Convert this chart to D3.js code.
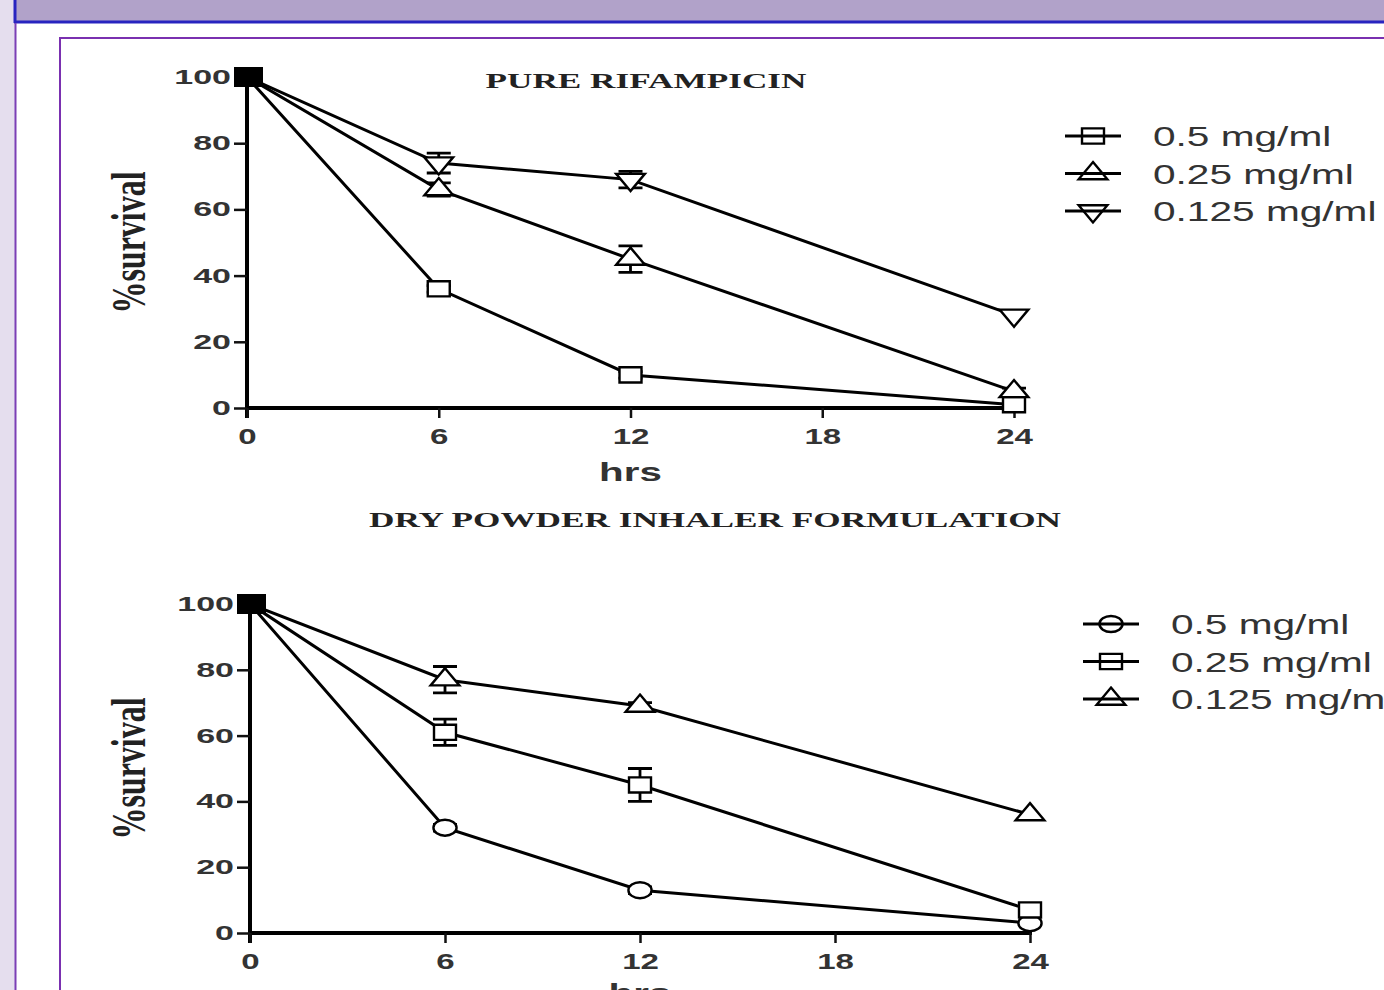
<!DOCTYPE html>
<html>
<head>
<meta charset="utf-8">
<script src="https://cdn.jsdelivr.net/npm/d3@7"></script>
<style>
  body { margin: 0; background: #fff; }
  svg { display: block; }
</style>
</head>
<body>
<script>
// time points (hrs)
const hours = [0, 6, 12, 24];
const xTicks = [0, 6, 12, 18, 24];
const yTicks = [0, 20, 40, 60, 80, 100];
const doseLabels = ['0.5 mg/ml', '0.25 mg/ml', '0.125 mg/ml'];

// pure rifampicin, % survival
const pure05 = [100, 36, 10, 1];
const pure025 = [100, 66, 45, 5];
const pure0125 = [100, 74, 69, 28];
const pure05Err = [0, 1, 1, 0];
const pure025Err = [0, 2, 4, 1];
const pure0125Err = [0, 3, 2.5, 0];

// dry powder inhaler formulation, % survival
const dpi05 = [100, 32, 13, 3];
const dpi025 = [100, 61, 45, 7];
const dpi0125 = [100, 77, 69, 36];
const dpi05Err = [0, 1, 1, 0];
const dpi025Err = [0, 4, 5, 1];
const dpi0125Err = [0, 4, 1, 0];

const W = 1384, H = 990;
const SANS = 'Liberation Sans, Arial, sans-serif';
const SERIF = 'Liberation Serif, Times New Roman, serif';
const svg = d3.select('body').append('svg').attr('width', W).attr('height', H);

// the source image is stretched sideways, so text is widened to match
function widen(sel, k) {
  sel.each(function() {
    const w = this.getComputedTextLength();
    d3.select(this).attr('textLength', w * k).attr('lengthAdjust', 'spacingAndGlyphs');
  });
}

// page chrome
svg.append('rect').attr('x', 0).attr('y', 0).attr('width', 15).attr('height', H).attr('fill', '#e5deee');
svg.append('rect').attr('x', 15).attr('y', 0).attr('width', W - 15).attr('height', 22).attr('fill', '#b1a2c9');
svg.append('line').attr('x1', 15).attr('x2', 15).attr('y1', 0).attr('y2', 23)
  .attr('stroke', '#2824c0').attr('stroke-width', 3);
svg.append('line').attr('x1', 14).attr('x2', W).attr('y1', 22).attr('y2', 22)
  .attr('stroke', '#2824c0').attr('stroke-width', 3);
svg.append('line').attr('x1', 15.5).attr('x2', 15.5).attr('y1', 23).attr('y2', H)
  .attr('stroke', '#7b3fb5').attr('stroke-width', 2);
svg.append('rect').attr('x', 60).attr('y', 38).attr('width', W).attr('height', H)
  .attr('fill', 'none').attr('stroke', '#7a30b0').attr('stroke-width', 2);

const sym = {
  square: d3.symbol().type(d3.symbolSquare).size(230),
  up: d3.symbol().type(d3.symbolTriangle).size(170),
  down: d3.symbol().type(d3.symbolTriangle).size(170),
  circle: d3.symbol().type(d3.symbolCircle).size(200)
};

function marker(g, kind, x, y, fill) {
  g.append('path')
    .attr('d', sym[kind]())
    .attr('transform', `translate(${x},${y}) scale(1.45,1)${kind === 'down' ? ' rotate(180)' : ''}`)
    .attr('fill', fill).attr('stroke', '#000').attr('stroke-width', 2.4)
    .attr('vector-effect', 'non-scaling-stroke');
}

function drawPanel(opts) {
  const {x0, x1, y0, y1, title, titleX, titleY, series, legendX, legendY, hrsY} = opts;
  const x = d3.scaleLinear().domain([0, 24]).range([x0, x1]);
  const y = d3.scaleLinear().domain([0, 100]).range([y0, y1]);
  const g = svg.append('g');

  // axes
  const yAxis = d3.axisLeft(y).tickValues(yTicks).tickSize(13).tickPadding(3);
  const xAxis = d3.axisBottom(x).tickValues(xTicks).tickSize(10).tickPadding(6);
  const $ya = g.append('g').attr('transform', `translate(${x0},0)`).call(yAxis);
  const $xa = g.append('g').attr('transform', `translate(0,${y0})`).call(xAxis);
  [$ya, $xa].forEach($a => {
    $a.select('.domain').attr('stroke', '#000').attr('stroke-width', 4);
    $a.selectAll('.tick line').attr('stroke', '#111').attr('stroke-width', 2.5);
    $a.selectAll('.tick text')
      .attr('font-family', SANS).attr('font-weight', 'bold').attr('fill', '#333');
  });
  $ya.selectAll('.tick text').attr('font-size', 20).call(widen, 1.7);
  $xa.selectAll('.tick text').attr('font-size', 22).attr('dy', '0.9em').call(widen, 1.5);
  $xa.select('.domain').attr('d', `M${x0},0H${x1 + 2}`);
  $ya.select('.domain').attr('d', `M0,${y0 + 10}V${y1}`);

  // lines, error bars, markers
  const line = d3.line().x((d, i) => x(hours[i])).y(d => y(d));
  series.forEach(s => {
    g.append('path').datum(s.values).attr('d', line)
      .attr('fill', 'none').attr('stroke', '#000').attr('stroke-width', 3);
  });
  series.forEach(s => {
    s.values.forEach((v, i) => {
      const e = s.err[i];
      if (e > 0) {
        const cx = x(hours[i]);
        g.append('path')
          .attr('d', `M${cx},${y(v + e)}V${y(v - e)}M${cx - 12},${y(v + e)}H${cx + 12}M${cx - 12},${y(v - e)}H${cx + 12}`)
          .attr('fill', 'none').attr('stroke', '#000').attr('stroke-width', 2.8);
      }
    });
  });
  series.forEach(s => {
    s.values.forEach((v, i) => {
      if (i > 0) marker(g, s.kind, x(hours[i]), y(v), '#fff');
    });
  });
  // overlapping starting markers at 100 %
  g.append('rect').attr('x', x(0) - 13).attr('y', y(100) - 10).attr('width', 29).attr('height', 20).attr('fill', '#000');

  // titles
  g.append('text').attr('x', titleX).attr('y', titleY).attr('text-anchor', 'middle')
    .attr('font-family', SERIF).attr('font-weight', 'bold')
    .attr('font-size', 22).attr('fill', '#222').text(title).call(widen, 1.6);
  g.append('text').attr('x', x(12)).attr('y', hrsY).attr('text-anchor', 'middle')
    .attr('font-family', SANS).attr('font-weight', 'bold')
    .attr('font-size', 26).attr('fill', '#333').text('hrs').call(widen, 1.55);
  g.append('text')
    .attr('transform', `translate(145,${(y0 + y1) / 2}) scale(1.5,1) rotate(-90)`)
    .attr('text-anchor', 'middle')
    .attr('font-family', SERIF).attr('font-weight', 'bold')
    .attr('font-size', 32).attr('fill', '#222').text('%survival');

  // legend
  series.forEach((s, i) => {
    const ly = legendY + i * 37.5;
    marker(g, s.kind, legendX + 28, ly, 'none');
    g.append('line').attr('x1', legendX).attr('x2', legendX + 56).attr('y1', ly).attr('y2', ly)
      .attr('stroke', '#000').attr('stroke-width', 3);
    g.append('text').attr('x', legendX + 88).attr('y', ly + 10)
      .attr('font-family', SANS)
      .attr('font-size', 28).attr('fill', '#333').text(s.label).call(widen, 1.45);
  });
}

drawPanel({
  x0: 247, x1: 1014, y0: 408, y1: 77,
  title: 'PURE RIFAMPICIN', titleX: 646, titleY: 88, hrsY: 481,
  legendX: 1065, legendY: 136,
  series: [
    {label: doseLabels[0], kind: 'square', values: pure05, err: pure05Err},
    {label: doseLabels[1], kind: 'up', values: pure025, err: pure025Err},
    {label: doseLabels[2], kind: 'down', values: pure0125, err: pure0125Err}
  ]
});

drawPanel({
  x0: 250, x1: 1030, y0: 933, y1: 604,
  title: 'DRY POWDER INHALER FORMULATION', titleX: 715, titleY: 527, hrsY: 1002,
  legendX: 1083, legendY: 624,
  series: [
    {label: doseLabels[0], kind: 'circle', values: dpi05, err: dpi05Err},
    {label: doseLabels[1], kind: 'square', values: dpi025, err: dpi025Err},
    {label: doseLabels[2], kind: 'up', values: dpi0125, err: dpi0125Err}
  ]
});
</script>
</body>
</html>
